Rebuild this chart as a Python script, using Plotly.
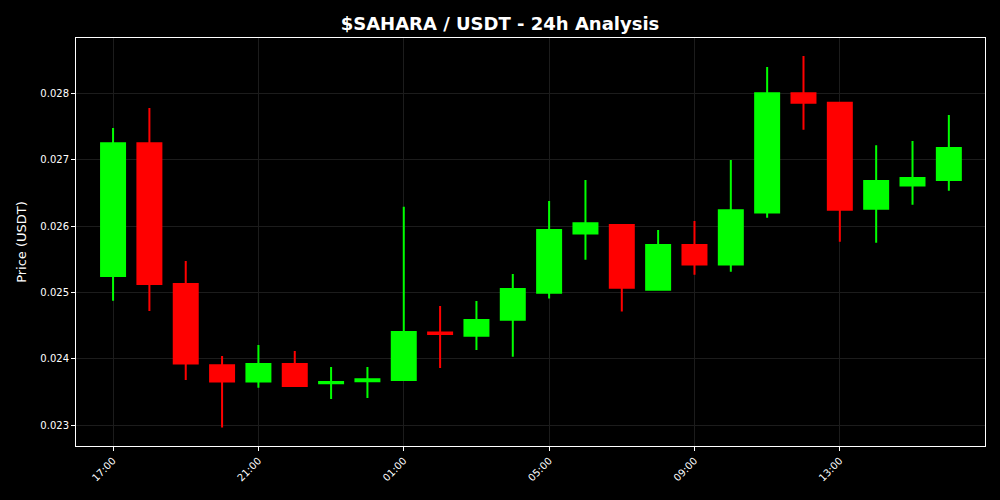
import pandas as pd
import plotly.graph_objects as go

times = pd.date_range("2024-01-01 17:00", periods=24, freq="h")
opens = [0.025249, 0.027247, 0.025128, 0.023904, 0.023658, 0.023924, 0.023633, 0.023663,
         0.023683, 0.024396, 0.024350, 0.024591, 0.024998, 0.025887, 0.026017, 0.025043,
         0.025716, 0.025420, 0.026203, 0.028000, 0.027859, 0.026263, 0.026610, 0.026695]
highs = [0.027478, 0.027780, 0.025475, 0.024044, 0.024210, 0.024120, 0.023879, 0.023879,
         0.026293, 0.024797, 0.024872, 0.025279, 0.026379, 0.026695, 0.026032, 0.025942,
         0.026077, 0.026996, 0.028397, 0.028562, 0.027870, 0.027217, 0.027282, 0.027674]
lows = [0.024877, 0.024722, 0.023683, 0.022965, 0.023567, 0.023582, 0.023397, 0.023412,
        0.023673, 0.023863, 0.024134, 0.024034, 0.024908, 0.025495, 0.024712, 0.025043,
        0.025269, 0.025314, 0.026127, 0.027453, 0.025766, 0.025751, 0.026323, 0.026534]
closes = [0.027247, 0.025128, 0.023929, 0.023658, 0.023924, 0.023592, 0.023653, 0.023693,
          0.024406, 0.024376, 0.024586, 0.025053, 0.025942, 0.026042, 0.025073, 0.025716,
          0.025420, 0.026238, 0.028000, 0.027859, 0.026248, 0.026680, 0.026725, 0.027177]

fig = go.Figure(go.Candlestick(
    x=times, open=opens, high=highs, low=lows, close=closes,
    increasing=dict(line=dict(color="#00ff00", width=2), fillcolor="#00ff00"),
    decreasing=dict(line=dict(color="#ff0000", width=2), fillcolor="#ff0000"),
    whiskerwidth=0,
))

hour = pd.Timedelta(hours=1)
fig.update_layout(
    width=1000, height=500,
    paper_bgcolor="black", plot_bgcolor="black",
    margin=dict(l=76, r=15, t=38, b=54),
    showlegend=False,
    boxgap=0.34, boxgroupgap=0,
    font=dict(family="DejaVu Sans", color="white"),
    title=dict(text="<b>$SAHARA / USDT - 24h Analysis</b>", x=0.5, xanchor="center",
               y=0.953, yanchor="middle", font=dict(size=18, color="white")),
    xaxis=dict(
        rangeslider=dict(visible=False),
        range=[times[0] - 1.02 * hour, times[-1] + 0.995 * hour],
        tickformat="%H:%M", dtick=4 * 3600 * 1000, tick0=times[0],
        tickangle=-45, tickfont=dict(size=10, color="white"),
        ticks="outside", ticklen=4, tickcolor="white",
        showgrid=True, gridcolor="#1c1c1c", gridwidth=1,
        showline=True, linecolor="white", linewidth=1, mirror=True,
        zeroline=False,
    ),
    yaxis=dict(
        range=[0.022688, 0.028833],
        tickvals=[0.023, 0.024, 0.025, 0.026, 0.027, 0.028],
        ticktext=["0.023", "0.024", "0.025", "0.026", "0.027", "0.028"],
        tickfont=dict(size=10, color="white"),
        ticks="outside", ticklen=4, tickcolor="white",
        showgrid=True, gridcolor="#1c1c1c", gridwidth=1,
        showline=True, linecolor="white", linewidth=1, mirror=True,
        zeroline=False,
        title=dict(text="Price (USDT)", font=dict(size=13, color="white"), standoff=10),
    ),
)

fig.write_html(
    "out.html",
    config={"displayModeBar": False},
    post_script="document.body.style.margin='0';document.body.style.background='black';",
)
